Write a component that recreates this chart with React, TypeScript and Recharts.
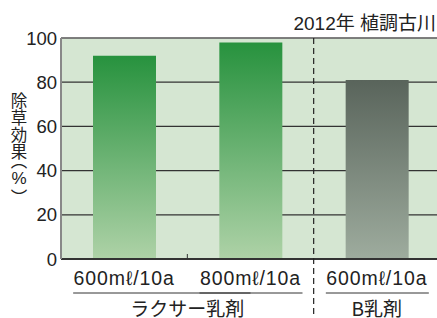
import React from 'react';
import { BarChart, Bar, XAxis, YAxis, CartesianGrid, Cell, ReferenceLine } from 'recharts';

const doses = ['600mℓ/10a', '800mℓ/10a', '600mℓ/10a'];
const groups = ['ラクサー乳剤', 'ラクサー乳剤', 'B乳剤'];
const effects = [92, 98, 81];
const yTicks = [0, 20, 40, 60, 80, 100];
const yLabelChars = ['除', '草', '効', '果', '︵', '%', '︶'];

const CHART_W = 440;
const CHART_H = 318;
const MARGIN = { top: 38, right: 0, bottom: 0, left: 0 };
const Y_W = 61;
const X_H = 59;
const BAND = (CHART_W - Y_W - MARGIN.left - MARGIN.right) / doses.length;

const FONT = '"Liberation Sans", "Noto Sans CJK JP", sans-serif';
const JP = '"Noto Sans CJK JP", sans-serif';

const data = doses.map((dose, i) => ({
  key: `${groups[i]}|${i}`,
  dose,
  group: groups[i],
  value: effects[i],
}));

// dose label, group underline + group name, and divider between groups
const DoseTick = (props: any) => {
  const { x, y, payload } = props;
  const i = payload.index;
  const prevSame = i > 0 && groups[i - 1] === groups[i];
  const nextSame = i < groups.length - 1 && groups[i + 1] === groups[i];
  const isFirst = !prevSame;
  let span = 1;
  while (isFirst && groups[i + span] === groups[i]) span++;
  const groupCenter = x + ((span - 1) * BAND) / 2;
  return (
    <g>
      <text
        x={x}
        y={y + 26}
        textAnchor="middle"
        fontSize={19.5}
        letterSpacing={0.9}
        fill="#222"
        fontFamily={FONT}
      >
        {doses[i]}
      </text>
      <line
        x1={x - 51}
        x2={nextSame ? x + BAND : x + 52}
        y1={y + 34}
        y2={y + 34}
        stroke="#333"
        strokeWidth={1}
      />
      {isFirst && (
        <text x={groupCenter} y={y + 57} textAnchor="middle" fontSize={19} fill="#222" fontFamily={JP}>
          {groups[i]}
        </text>
      )}
      {prevSame && <line x1={x - BAND / 2} x2={x - BAND / 2} y1={y} y2={y - 5} stroke="#333" strokeWidth={1} />}
      {i > 0 && !prevSame && (
        <line
          x1={x - BAND / 2}
          x2={x - BAND / 2}
          y1={MARGIN.top}
          y2={CHART_H}
          stroke="#222"
          strokeWidth={1.2}
          strokeDasharray="6 4"
        />
      )}
    </g>
  );
};

export default function App() {
  return (
    <div style={{ position: 'absolute', left: 0, top: 0, width: 437, height: 318, overflow: 'hidden', background: '#fff' }}>
      <BarChart width={CHART_W} height={CHART_H} data={data} margin={MARGIN}>
        <defs>
          <linearGradient id="gradGreen" x1="0" y1="0" x2="0" y2="1">
            <stop offset="0%" stopColor="#27923e" />
            <stop offset="100%" stopColor="#aed2a7" />
          </linearGradient>
          <linearGradient id="gradGray" x1="0" y1="0" x2="0" y2="1">
            <stop offset="0%" stopColor="#59645b" />
            <stop offset="100%" stopColor="#9eac9e" />
          </linearGradient>
        </defs>
        <CartesianGrid vertical={false} fill="#d5e6d2" stroke="#333" strokeWidth={1.2} />
        <XAxis
          dataKey="key"
          height={X_H}
          tick={<DoseTick />}
          tickLine={false}
          tickSize={0}
          tickMargin={0}
          axisLine={{ stroke: '#333', strokeWidth: 2 }}
          interval={0}
        />
        <YAxis
          width={Y_W}
          domain={[0, 100]}
          ticks={yTicks}
          tickLine={false}
          tickSize={0}
          tickMargin={4}
          axisLine={{ stroke: '#888', strokeWidth: 2 }}
          tick={{ fontSize: 18.5, fill: '#222', fontFamily: FONT }}
        />
        <ReferenceLine y={100} stroke="#777" strokeWidth={1.5} />
        <Bar dataKey="value" barSize={63} isAnimationActive={false}>
          {data.map((d, i) => (
            <Cell key={`cell-${i}`} fill={d.group === groups[0] ? 'url(#gradGreen)' : 'url(#gradGray)'} />
          ))}
        </Bar>
      </BarChart>
      <div
        style={{
          position: 'absolute',
          right: 1,
          top: 12,
          fontSize: 19,
          lineHeight: '24px',
          color: '#222',
          fontFamily: FONT,
          whiteSpace: 'nowrap',
        }}
      >
        2012年 植調古川
      </div>
      <div
        style={{
          position: 'absolute',
          left: 8,
          top: 92,
          width: 22,
          display: 'flex',
          flexDirection: 'column',
          alignItems: 'center',
          color: '#222',
        }}
      >
        {yLabelChars.map((c, i) => {
          const paren = c === '︵' || c === '︶';
          return (
            <span
              key={i}
              style={{
                position: 'relative',
                top: c === '︵' ? -5 : c === '︶' ? 5 : 0,
                fontFamily: c === '%' ? FONT : JP,
                fontSize: c === '%' ? 17 : 16.5,
                lineHeight: paren ? '11px' : c === '%' ? '16px' : '17px',
                height: paren ? 11 : c === '%' ? 16 : 17,
              }}
            >
              {c}
            </span>
          );
        })}
      </div>
    </div>
  );
}
